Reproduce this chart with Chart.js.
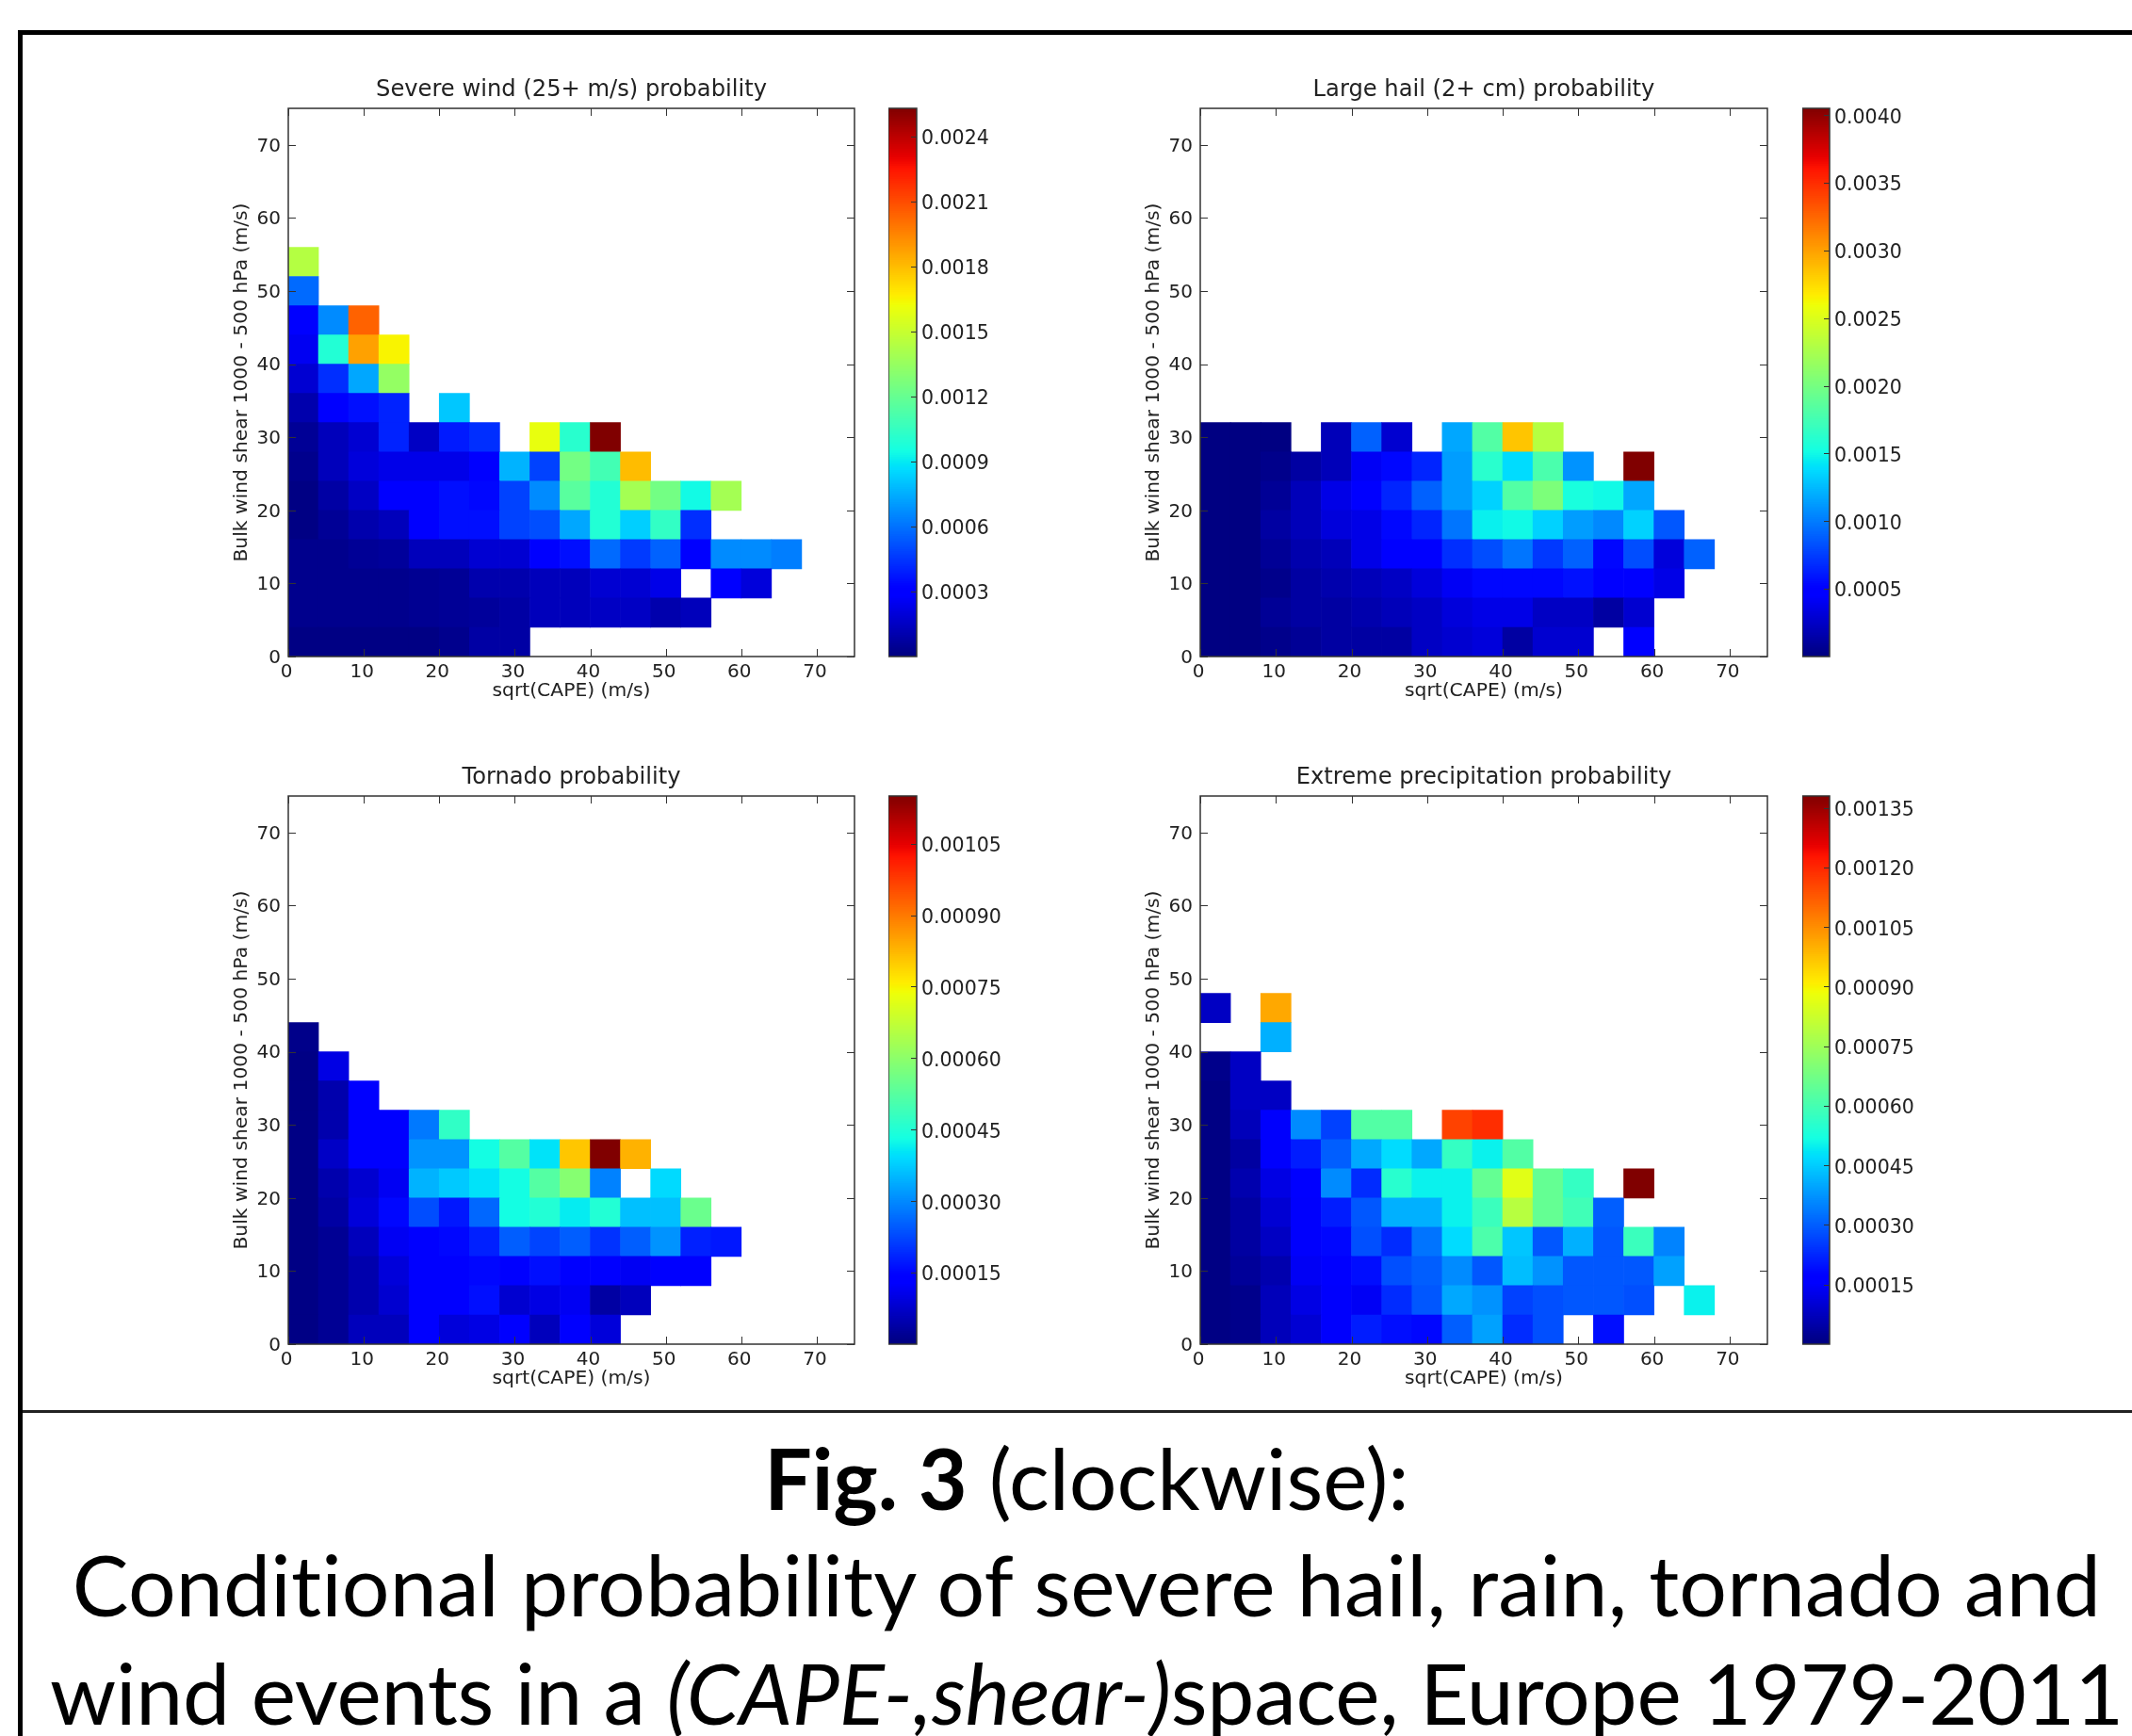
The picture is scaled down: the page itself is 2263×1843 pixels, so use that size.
<!DOCTYPE html>
<html>
<head>
<meta charset="utf-8">
<script src="https://cdn.jsdelivr.net/npm/chart.js@4"></script>
<style>
  html, body { margin: 0; padding: 0; background: #fff; }
  body { position: relative; width: 2263px; height: 1843px; overflow: hidden; }
  canvas { position: absolute; filter: blur(0.5px); }
  .rule { position: absolute; background: #000; }
  .cap { position: absolute; left: 0; width: 2307px; text-align: center; white-space: nowrap; color: #000;
         font-family: Lato, "Open Sans", sans-serif; font-size: 89.5px; line-height: 100px; font-variant-ligatures: none; }
</style>
</head>
<body>
<div class="rule" style="left:19px;top:32px;width:2244px;height:5px"></div>
<div class="rule" style="left:19px;top:32px;width:5px;height:1811px"></div>
<div class="rule" style="left:24px;top:1497px;width:2239px;height:3px;background:#222"></div>
<div class="cap" style="top:1519px"><b>Fig. 3</b> (clockwise):</div>
<div class="cap" style="top:1632px;letter-spacing:0.18px">Conditional probability of severe hail, rain, tornado and</div>
<div class="cap" style="top:1747px;letter-spacing:-0.2px">wind events in a <i>(CAPE-,shear-)</i>space, Europe 1979-2011</div>
<script>
// cell values in units of 1e-5, bottom row first, left column first (4 m/s bins)
const windRows = [
  [1,1,1,1,1,3,8,8],
  [3,3,3,3,4,5,6,8,13,13,15,15,10,13],
  [3,3,3,3,4,5,10,10,13,13,18,18,23,null,28,20],
  [3,3,5,6,13,13,18,18,28,35,58,46,56,28,66,66,63],
  [1,5,10,13,28,35,35,48,51,73,99,83,104,43],
  [1,8,15,28,30,35,33,48,66,116,99,139,124,94,139],
  [3,13,20,23,23,23,28,76,48,124,109,180],
  [5,13,18,40,15,38,43,null,160,101,253],
  [10,28,35,40,null,81],
  [18,43,73,134],
  [25,99,187,165],
  [28,66,204],
  [58],
  [144]
];
const hailRows = [
  [1,1,4,8,12,12,12,24,28,32,12,28,28,null,45],
  [1,1,8,12,12,16,20,24,32,36,36,24,24,12,28],
  [1,1,4,12,16,20,24,32,41,53,53,53,57,45,45,36],
  [1,1,8,16,20,36,45,45,69,81,97,73,89,53,81,32,89],
  [1,1,12,20,32,36,53,65,97,146,150,134,113,105,134,85],
  [1,1,8,20,36,45,65,89,113,134,182,203,154,150,117],
  [1,1,4,12,20,41,53,65,113,162,138,178,109,null,405],
  [1,1,1,null,20,89,28,null,117,182,284,231]
];
const tornadoRows = [
  [0.5,2,6,6,13,9,10,13,6,13,9],
  [0.5,2,4.5,8,13,13,16,8,10,11.5,3.5,6],
  [0.5,2,4.5,9,13,13,15,13,16,13,13,11.5,13,13],
  [0.5,2,6,11.5,13,15,18,25,22,25,20,25,31,18,17],
  [0.5,3.5,9,15,23,17,26,43,45,41,45,36,36,55],
  [0.5,4.5,8,11.5,34.5,37,40,43,52,59,29,null,39],
  [0.5,7,13,13,31,31,43,52,40,80.5,115,83],
  [0.5,4.5,13,13,28,47],
  [0.5,4.5,13],
  [0.5,10],
  [1]
];
const precipRows = [
  [0.5,1.4,7,10,15,21,19,18,30,39,23,28,null,19],
  [0.5,1.4,7,12,15,14,23,29,40,37,26,28,29,29,28,null,50],
  [0.5,3,5.5,14,17,19,28,30,36,29,43,37,29,29,29,39],
  [0.5,4,8,15,18,28,23,33,47,61,44,29,41,29,58,35],
  [0.5,4,10,15,21,29,41,41,50,58,79,65,59,30],
  [0.5,5.5,12,17,36,23,55,50,50,65,86,65,57,null,138],
  [0.5,4,15,21,30,40,47,40,57,50,62],
  [0.5,7,15,36,26,62,62,null,116,119],
  [0.5,8,8],
  [1.4,8],
  [null,null,41],
  [8,null,101]
];

const axisTicks = [0, 10, 20, 30, 40, 50, 60, 70];
const windTicks = [0.0003, 0.0006, 0.0009, 0.0012, 0.0015, 0.0018, 0.0021, 0.0024];
const hailTicks = [0.0005, 0.0010, 0.0015, 0.0020, 0.0025, 0.0030, 0.0035, 0.0040];
const tornadoTicks = [0.00015, 0.00030, 0.00045, 0.00060, 0.00075, 0.00090, 0.00105];
const precipTicks = [0.00015, 0.00030, 0.00045, 0.00060, 0.00075, 0.00090, 0.00105, 0.00120, 0.00135];

const unit = 1e-5;
const binSize = 4;
const xTitle = "sqrt(CAPE) (m/s)";
const yTitle = "Bulk wind shear 1000 - 500 hPa (m/s)";
const textColor = "#222";
const fontName = "'DejaVu Sans'";

const panels = [
  { title: "Severe wind (25+ m/s) probability", rows: windRows, ticks: windTicks, dec: 4, vmax: 0.00253, x: 305.5, y: 115.4, w: 601, barX: 943, barW: 30 },
  { title: "Large hail (2+ cm) probability", rows: hailRows, ticks: hailTicks, dec: 4, vmax: 0.00405, x: 1273.5, y: 115.4, w: 602, barX: 1913, barW: 29 },
  { title: "Tornado probability", rows: tornadoRows, ticks: tornadoTicks, dec: 5, vmax: 0.00115, x: 305.5, y: 845, w: 601, barX: 943, barW: 30 },
  { title: "Extreme precipitation probability", rows: precipRows, ticks: precipTicks, dec: 5, vmax: 0.00138, x: 1273.5, y: 845, w: 602, barX: 1913, barW: 29 }
];
const plotH = 582;

function lerp(xs, ys, t) {
  for (let i = 1; i < xs.length; i++) {
    if (t <= xs[i]) return ys[i - 1] + (ys[i] - ys[i - 1]) * (t - xs[i - 1]) / (xs[i] - xs[i - 1]);
  }
  return ys[ys.length - 1];
}

function jet(t) {
  t = Math.max(0, Math.min(1, t));
  const r = lerp([0, 0.35, 0.66, 0.89, 1], [0, 0, 1, 1, 0.5], t);
  const g = lerp([0, 0.125, 0.375, 0.64, 0.91, 1], [0, 0, 1, 1, 0, 0], t);
  const b = lerp([0, 0.11, 0.34, 0.65, 1], [0.5, 1, 1, 0, 0], t);
  return `rgb(${Math.round(r * 255)},${Math.round(g * 255)},${Math.round(b * 255)})`;
}

function addCanvas(left, top, width, height) {
  const c = document.createElement("canvas");
  c.width = width;
  c.height = height;
  c.style.left = left + "px";
  c.style.top = top + "px";
  c.style.width = width + "px";
  c.style.height = height + "px";
  document.body.appendChild(c);
  return c;
}

// matplotlib draws a box with short inward ticks, chart.js has no option for that
const boxPlugin = {
  id: "box",
  afterDatasetsDraw(chart, args, opts) {
    const { ctx, chartArea: a, scales } = chart;
    ctx.save();
    ctx.strokeStyle = "#333";
    ctx.lineWidth = 1.5;
    ctx.strokeRect(a.left, a.top, a.right - a.left, a.bottom - a.top);
    ctx.lineWidth = 1;
    ctx.beginPath();
    scales.y.ticks.forEach((t) => {
      const py = Math.round(scales.y.getPixelForValue(t.value)) + 0.5;
      if (opts.both) {
        ctx.moveTo(a.left, py);
        ctx.lineTo(a.left + opts.len, py);
      }
      ctx.moveTo(a.right, py);
      ctx.lineTo(a.right - opts.len, py);
    });
    if (opts.both) {
      scales.x.ticks.forEach((t) => {
        const px = Math.round(scales.x.getPixelForValue(t.value)) + 0.5;
        ctx.moveTo(px, a.top);
        ctx.lineTo(px, a.top + opts.len);
        ctx.moveTo(px, a.bottom);
        ctx.lineTo(px, a.bottom - opts.len);
      });
    }
    ctx.stroke();
    ctx.restore();
  }
};

function drawHeat(p) {
  const m = { l: 100, r: 10, t: 50, b: 70 };
  const canvas = addCanvas(p.x - m.l, p.y - m.t, p.w + m.l + m.r, plotH + m.t + m.b);
  const datasets = p.rows.map((row, r) => {
    const cells = [];
    row.forEach((v, c) => {
      if (v !== null) cells.push({ x: binSize * c + binSize / 2, y: [binSize * r, binSize * (r + 1)], v: v });
    });
    return {
      data: cells,
      backgroundColor: cells.map((cell) => jet(cell.v * unit / p.vmax)),
      barPercentage: 1,
      categoryPercentage: 1,
      grouped: false
    };
  });
  new Chart(canvas, {
    type: "bar",
    data: { datasets: datasets },
    options: {
      responsive: false,
      animation: false,
      layout: { padding: { right: m.r } },
      scales: {
        x: {
          type: "linear", min: 0, max: 75, offset: false,
          afterBuildTicks(s) { s.ticks = axisTicks.map((v) => ({ value: v })); },
          afterFit(s) { s.height = m.b; },
          grid: { display: false, drawTicks: false },
          border: { display: false },
          ticks: { maxRotation: 0, autoSkip: false, padding: 5, labelOffset: -2, color: textColor, font: { family: fontName, size: 20 } },
          title: { display: true, text: xTitle, color: textColor, padding: { top: 0, bottom: 21 }, font: { family: fontName, size: 20.3 } }
        },
        y: {
          type: "linear", min: 0, max: 75,
          afterBuildTicks(s) { s.ticks = axisTicks.map((v) => ({ value: v })); },
          afterFit(s) { s.width = m.l; },
          grid: { display: false, drawTicks: false },
          border: { display: false },
          ticks: { autoSkip: false, padding: 8, labelOffset: 1.5, color: textColor, font: { family: fontName, size: 20 } },
          title: { display: true, text: yTitle, color: textColor, padding: { top: 39, bottom: 0 }, font: { family: fontName, size: 20.3 } }
        }
      },
      plugins: {
        legend: { display: false },
        tooltip: { enabled: false },
        title: {
          display: true, text: p.title, color: textColor, fullSize: false,
          padding: { top: 16, bottom: 5 },
          font: { family: fontName, size: 24.2, weight: "normal" }
        },
        box: { both: true, len: 8 }
      }
    },
    plugins: [boxPlugin]
  });
}

function drawBar(p) {
  const labelW = 110;
  const canvas = addCanvas(p.barX, p.y - 10, p.barW + labelW, plotH + 20);
  const levels = [];
  for (let i = 0; i < 256; i++) levels.push(i);
  new Chart(canvas, {
    type: "bar",
    data: {
      labels: ["c"],
      // first dataset is painted last, so each level only shows above the previous one
      datasets: levels.map((i) => ({
        data: [[0, p.vmax * (i + 1) / 256]],
        backgroundColor: jet((i + 0.5) / 256),
        barPercentage: 1,
        categoryPercentage: 1,
        grouped: false
      }))
    },
    options: {
      responsive: false,
      animation: false,
      layout: { autoPadding: false, padding: { top: 10, bottom: 10 } },
      scales: {
        x: { display: false },
        y: {
          position: "right", min: 0, max: p.vmax,
          afterBuildTicks(s) { s.ticks = p.ticks.map((v) => ({ value: v })); },
          afterFit(s) {
            s.width = labelW;
            s.paddingTop = 0;
            s.paddingBottom = 0;
          },
          grid: { display: false, drawTicks: false },
          border: { display: false },
          ticks: {
            autoSkip: false, padding: 5, labelOffset: 3, color: textColor, font: { family: fontName, size: 20.5 },
            callback: (v) => Number(v).toFixed(p.dec)
          }
        }
      },
      plugins: {
        legend: { display: false },
        tooltip: { enabled: false },
        box: { both: false, len: 6 }
      }
    },
    plugins: [boxPlugin]
  });
}

panels.forEach((p) => {
  drawHeat(p);
  drawBar(p);
});
</script>
</body>
</html>
